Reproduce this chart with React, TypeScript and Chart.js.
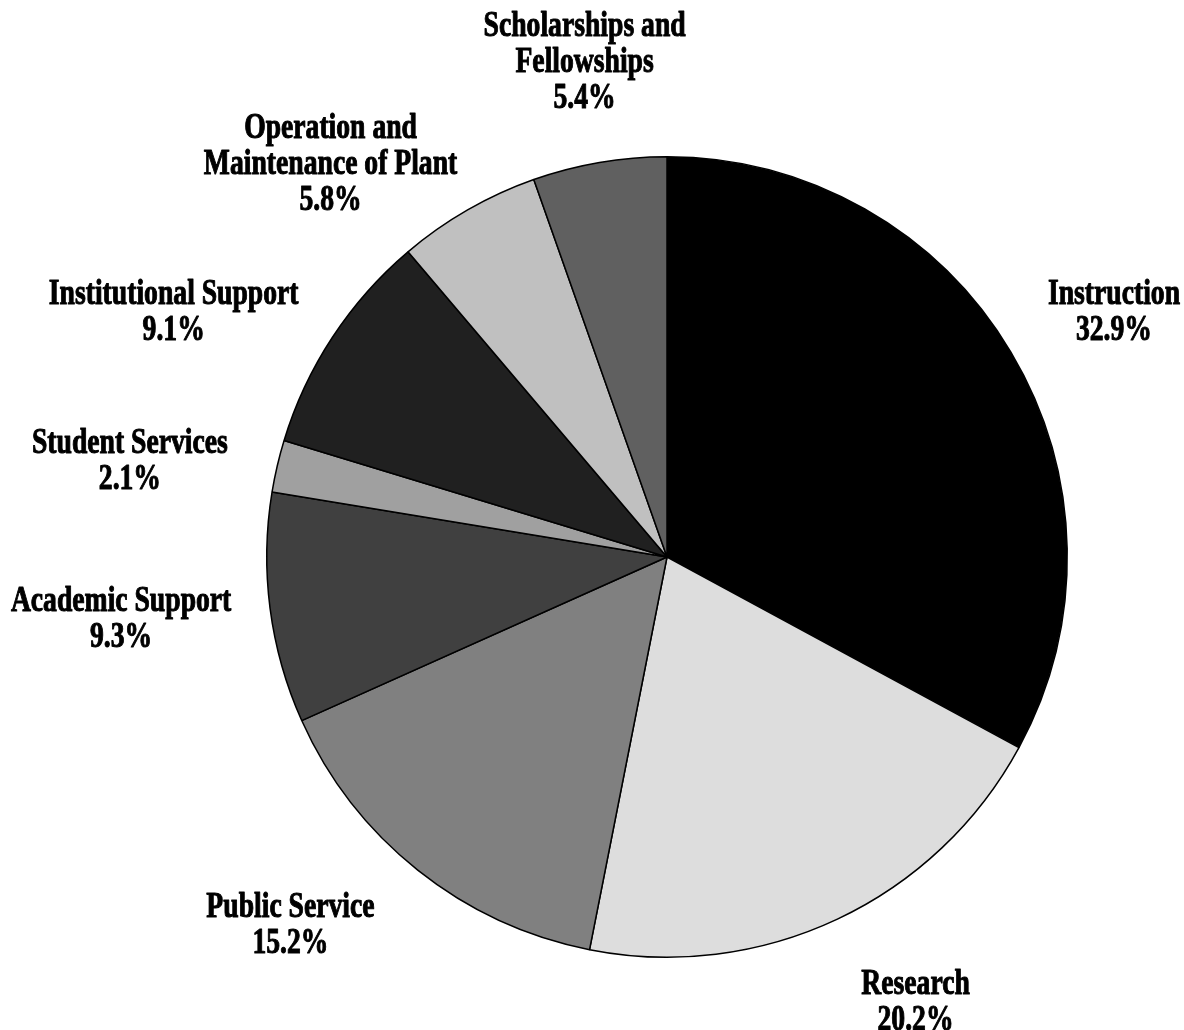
import React, { useEffect, useRef } from "react";
import { Chart, registerables } from "chart.js";

Chart.register(...registerables);

const categories = [
  "Instruction",
  "Research",
  "Public Service",
  "Academic Support",
  "Student Services",
  "Institutional Support",
  "Operation and Maintenance of Plant",
  "Scholarships and Fellowships",
];
const labelLines = [
  ["Instruction"],
  ["Research"],
  ["Public Service"],
  ["Academic Support"],
  ["Student Services"],
  ["Institutional Support"],
  ["Operation and", "Maintenance of Plant"],
  ["Scholarships and", "Fellowships"],
];
const shares = [32.9, 20.2, 15.2, 9.3, 2.1, 9.1, 5.8, 5.4];
const sliceColors = [
  "#000000",
  "#dddddd",
  "#808080",
  "#404040",
  "#a0a0a0",
  "#202020",
  "#c0c0c0",
  "#606060",
];

// label layout tweaks (text placement only, in px)
const labelNudge = [
  [12, 0],
  [38, 15],
  [-50, -4],
  [0, 2],
  [-13, 13],
  [-21, 17],
  [-54, 37],
  [9, -7],
];

const FONT = "bold 35px 'Liberation Serif', 'Times New Roman', serif";
const SCALE_X = 0.79;
const LINE_H = 36;
const GAP = 40;

const labelPlugin = {
  id: "outsideLabels",
  afterDraw(chart: any) {
    const ctx = chart.ctx as CanvasRenderingContext2D;
    const meta = chart.getDatasetMeta(0);
    ctx.save();
    ctx.font = FONT;
    ctx.fillStyle = "#000";
    ctx.strokeStyle = "#000";
    ctx.lineWidth = 1;
    ctx.lineJoin = "round";
    ctx.textAlign = "center";
    ctx.textBaseline = "middle";
    meta.data.forEach((arc: any, i: number) => {
      const { x, y, startAngle, endAngle, outerRadius } = arc.getProps(
        ["x", "y", "startAngle", "endAngle", "outerRadius"],
        true
      );
      const mid = (startAngle + endAngle) / 2;
      const dx = Math.cos(mid);
      const dy = Math.sin(mid);
      const lines = [...labelLines[i], shares[i].toFixed(1) + "%"];
      const w = Math.max(...lines.map((l) => ctx.measureText(l).width)) * SCALE_X;
      const h = lines.length * LINE_H;
      const ax = x + (outerRadius + GAP) * dx;
      const ay = y + (outerRadius + GAP) * dy;
      const cx = ax + dx * (w / 2) + labelNudge[i][0];
      const cy = ay + dy * (h / 2) + labelNudge[i][1];
      lines.forEach((l, k) => {
        const ly = cy - h / 2 + LINE_H * (k + 0.5);
        ctx.save();
        ctx.translate(cx, ly);
        ctx.scale(SCALE_X, 1);
        ctx.fillText(l, 0, 0);
        ctx.strokeText(l, 0, 0);
        ctx.restore();
      });
    });
    ctx.restore();
  },
};

export default function App() {
  const ref = useRef<HTMLCanvasElement | null>(null);
  useEffect(() => {
    document.body.style.margin = "0";
    const chart = new Chart(ref.current as HTMLCanvasElement, {
      type: "pie",
      data: {
        labels: categories,
        datasets: [
          {
            data: shares,
            backgroundColor: sliceColors,
            borderColor: "#000000",
            borderWidth: 1.5,
          },
        ],
      },
      options: {
        animation: false,
        responsive: false,
        maintainAspectRatio: false,
        layout: { padding: { left: 266, right: 116, top: 156, bottom: 72 } },
        plugins: {
          legend: { display: false },
          tooltip: { enabled: false },
          title: { display: false },
        },
      },
      plugins: [labelPlugin],
    });
    return () => chart.destroy();
  }, []);
  return (
    <div style={{ position: "fixed", left: 0, top: 0, width: 1184, height: 1030, background: "#fff" }}>
      <canvas ref={ref} width={1184} height={1030} style={{ width: 1184, height: 1030 }} />
    </div>
  );
}
